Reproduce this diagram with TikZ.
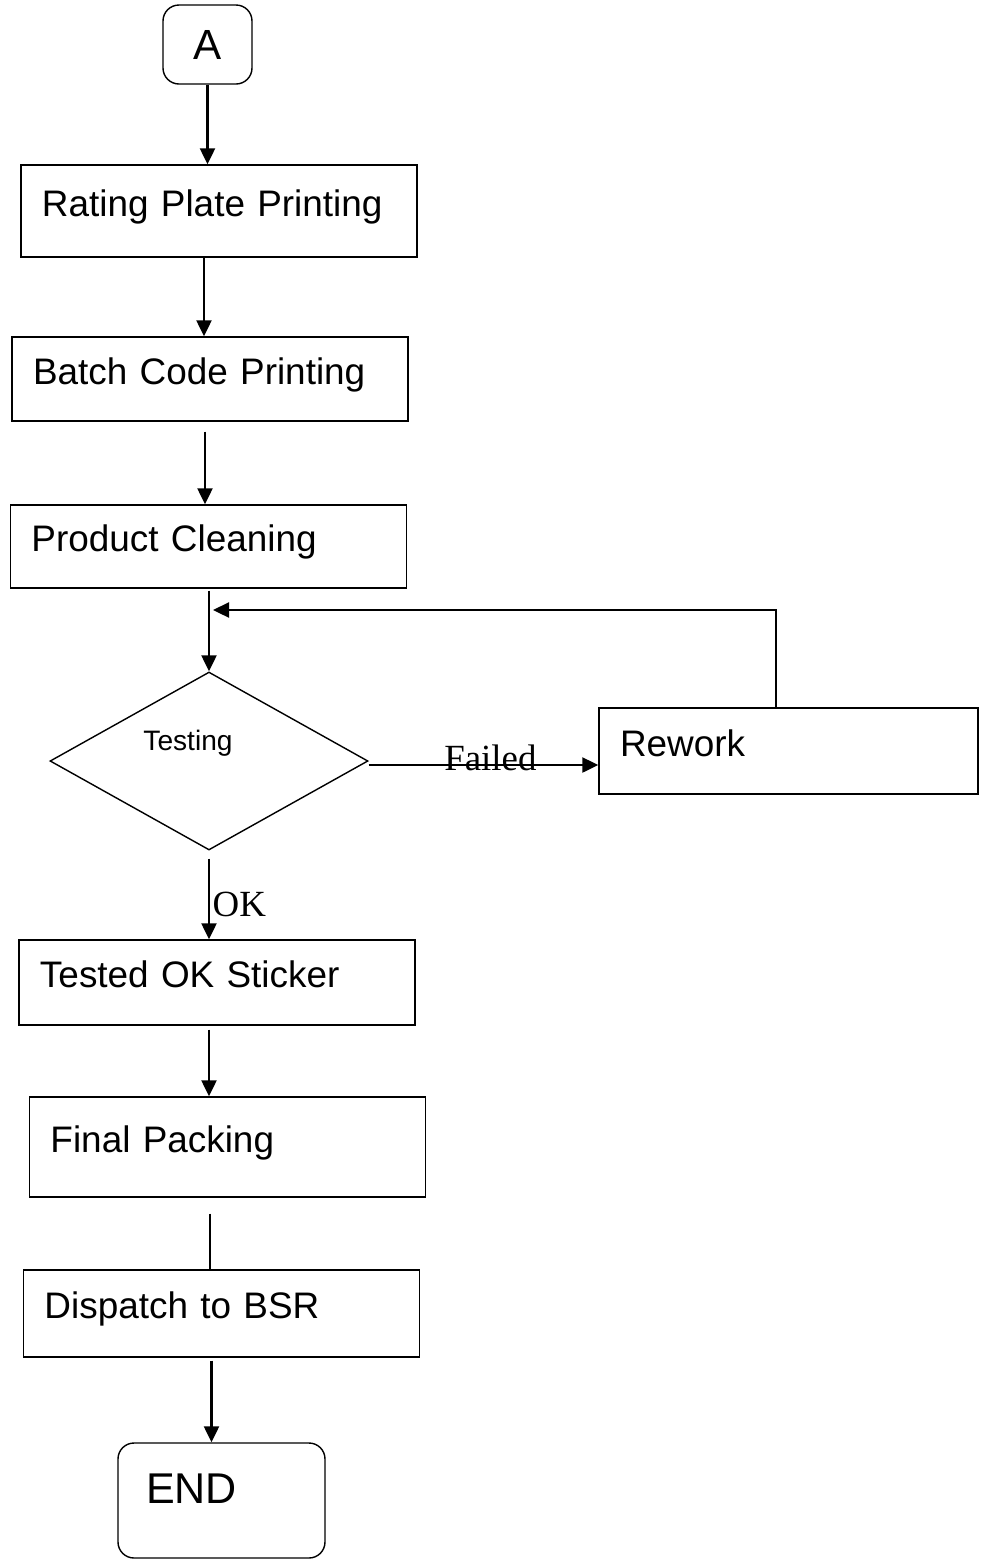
\documentclass[tikz,border=0pt]{standalone}
\usepackage{fontspec}
\setmainfont{Liberation Sans}
\newfontfamily\labfont{Liberation Serif}
\usetikzlibrary{shapes.geometric,arrows.meta}
\begin{document}
\begin{tikzpicture}[>={Triangle[length=0.32cm,width=0.3cm]},
    flow/.style={draw,line width=0.8pt,inner xsep=0.42cm,text width=7.08cm,
        minimum width=7.92cm,align=left,text height=0.53cm,text depth=0.32cm,
        font=\fontsize{21}{25}\selectfont},
    term/.style={draw,line width=0.8pt,rounded corners=0.32cm},
    link/.style={line width=1.3pt},
    tag/.style={font=\labfont\fontsize{21}{25}\selectfont,inner sep=0.05cm}]
    \useasboundingbox (0,0) rectangle (19.74,-31.22);
    \node [term,minimum width=1.78cm,minimum height=1.58cm,
        font=\fontsize{24}{29}\selectfont] (A) at (4.15,-0.89) {A};
    \node [flow,minimum height=1.84cm] (rate) at (4.38,-4.22) {Rating Plate Printing};
    \node [flow,minimum height=1.68cm] (batch) at (4.20,-7.58) {Batch Code Printing};
    \node [flow,minimum height=1.66cm] (clean) at (4.17,-10.93) {Product Cleaning};
    \node [draw,diamond,line width=0.8pt,inner sep=0pt,minimum width=6.36cm,
        minimum height=3.56cm,label={[xshift=-0.42cm,yshift=0.36cm,
        font=\fontsize{16}{19}\selectfont]center:Testing}] (test) at (4.18,-15.22) {};
    \node [flow,minimum height=1.72cm,minimum width=7.58cm,text width=6.74cm]
        (rework) at (15.77,-15.02) {Rework};
    \node [flow,minimum height=1.70cm] (ok) at (4.34,-19.65) {Tested OK Sticker};
    \node [flow,minimum height=2.0cm] (pack) at (4.55,-22.94) {Final Packing};
    \node [flow,minimum height=1.74cm] (disp) at (4.43,-26.27) {Dispatch to BSR};
    \node [term,minimum width=4.14cm,minimum height=2.30cm,inner xsep=0.56cm,
        text width=3.02cm,align=left,text height=0.62cm,text depth=0.52cm,
        font=\fontsize{24.5}{29}\selectfont] (end) at (4.43,-30.01) {END};
    \coordinate (join) at (4.26,-12.2);
    % main line
    \draw [link,->] (A) -- (A |- rate.north);
    \draw [link,->] ([xshift=-0.3cm]rate.south) -- ([xshift=-0.3cm]rate.south |- batch.north);
    \draw [link,->] ([xshift=-0.1cm,yshift=-0.2cm]batch.south) -- ([xshift=-0.1cm]batch.south |- clean.north);
    \draw [link,->] ([yshift=-0.04cm]clean.south -| test.north) -- (test.north);
    \draw [link,->] ([xshift=-0.25cm]rework.north) |- (join);
    \draw [link,->] ([yshift=-0.08cm]test.east) -- ([yshift=-0.08cm]test.east -| rework.west)
        node [tag,pos=0.53,yshift=0.15cm] {Failed};
    \draw [link,->] ([yshift=-0.16cm]test.south) -- (test.south |- ok.north)
        node [tag,pos=0.57,right] {OK};
    \draw [link,->] ([xshift=-0.16cm,yshift=-0.08cm]ok.south) -- ([xshift=-0.16cm]ok.south |- pack.north);
    \draw [link] ([xshift=-0.35cm,yshift=-0.32cm]pack.south) -- ([xshift=-0.35cm]pack.south |- disp.north);
    \draw [link,->] ([xshift=-0.2cm,yshift=-0.06cm]disp.south) -- ([xshift=-0.2cm]disp.south |- end.north);
\end{tikzpicture}
\end{document}
